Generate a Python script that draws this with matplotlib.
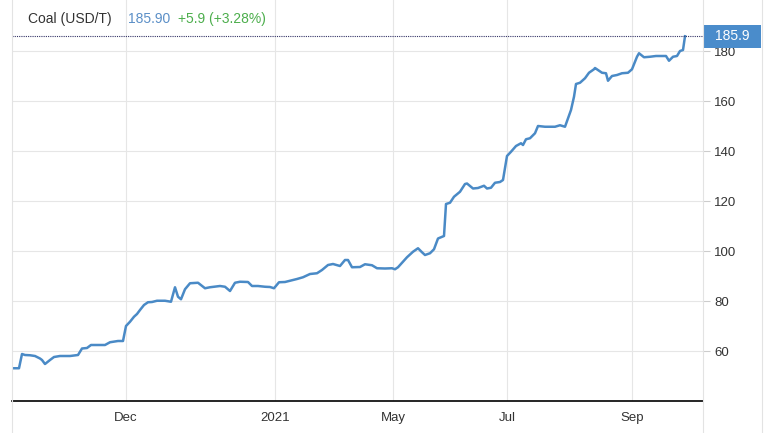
import matplotlib
matplotlib.use("Agg")
import matplotlib.pyplot as plt
from matplotlib.lines import Line2D
from matplotlib.patches import Rectangle
from matplotlib.transforms import blended_transform_factory

plt.rcParams['font.family'] = ['Liberation Sans', 'DejaVu Sans']

# Coal (USD/T), time index along the chart
t = [0, 7, 10, 13, 18, 23, 28, 30, 33, 38, 42, 48, 58, 66, 70, 75, 79, 93, 98, 106,
     111, 114, 118, 122, 125, 128, 132, 136, 140, 145, 153, 159, 163, 166, 169, 173,
     178, 186, 193, 198, 208, 213, 218, 223, 228, 236, 240, 246, 253, 258, 262, 267,
     273, 278, 285, 291, 298, 305, 310, 316, 321, 328, 333, 336, 340, 348, 353, 360,
     365, 373, 380, 383, 386, 391, 395, 401, 406, 410, 413, 418, 422, 426, 432, 434,
     438, 442, 448, 453, 455, 461, 466, 472, 475, 479, 483, 488, 491, 495, 499, 504,
     509, 511, 514, 518, 523, 526, 533, 543, 548, 553, 559, 562, 564, 568, 573, 577,
     582, 583, 586, 590, 594, 596, 600, 605, 610, 616, 620, 625, 627, 632, 638, 644,
     654, 657, 661, 665, 668, 671, 673]
price = [53.1, 53.1, 58.8, 58.4, 58.3, 58.0, 57.0, 56.4, 54.8, 56.4, 57.6, 58.0, 58.0,
         58.4, 61.0, 61.2, 62.4, 62.4, 63.5, 64.0, 64.0, 70.0, 71.7, 73.7, 74.8, 76.4,
         78.4, 79.5, 79.6, 80.1, 80.1, 79.7, 85.5, 81.7, 80.7, 84.7, 87.1, 87.3, 85.1,
         85.5, 86.0, 85.7, 84.0, 87.3, 87.7, 87.6, 86.0, 86.0, 85.7, 85.6, 85.1, 87.5,
         87.6, 88.1, 88.8, 89.5, 90.8, 91.1, 92.4, 94.4, 94.8, 94.0, 96.4, 96.4, 93.5,
         93.6, 94.7, 94.3, 93.1, 93.0, 93.1, 92.7, 93.5, 95.7, 97.5, 99.7, 101.1, 99.5,
         98.4, 99.1, 100.7, 105.0, 106.0, 118.8, 119.3, 121.7, 123.7, 126.8, 127.0,
         125.0, 125.2, 126.1, 125.0, 125.3, 127.3, 127.6, 128.4, 138.0, 139.7, 142.0,
         143.1, 142.4, 144.7, 145.1, 147.1, 150.0, 149.7, 149.7, 150.3, 149.7, 156.4,
         161.7, 166.8, 167.3, 169.1, 171.3, 172.7, 173.2, 172.4, 171.3, 171.1, 168.1,
         170.0, 170.4, 171.1, 171.3, 172.7, 177.7, 179.1, 177.5, 177.7, 178.0, 178.0,
         176.1, 177.7, 178.0, 180.0, 180.4, 185.9]

tick_pos = [114, 263, 381, 495, 620]
tick_labels = ["Dec", "2021", "May", "Jul", "Sep"]
y_ticks = [60, 80, 100, 120, 140, 160, 180]
last = 185.9
change = "+5.9 (+3.28%)"

W, H = 771, 433
fig = plt.figure(figsize=(W / 100, H / 100), dpi=100)
ax = fig.add_axes([12 / W, 32 / H, 691 / W, 401 / H])

line_color = "#4a8ac6"
ax.plot(t, price, color=line_color, linewidth=1.8, solid_joinstyle="round")

ax.set_xlim(0, 691)
ax.set_ylim(40, 200.4)
ax.set_xticks(tick_pos)
ax.set_xticklabels(tick_labels)
ax.set_yticks(y_ticks)
ax.yaxis.tick_right()
ax.tick_params(axis="x", length=0, pad=8, labelsize=9.5, labelcolor="#333333")
ax.tick_params(axis="y", length=5, width=0.8, color="#cccccc", pad=3,
               labelsize=9.5, labelcolor="#333333")
ax.grid(True, color="#e6e6e6", linewidth=0.8)
ax.set_axisbelow(True)
for s in ["top", "left", "right"]:
    ax.spines[s].set_visible(False)
ax.spines["bottom"].set_color("black")
ax.spines["bottom"].set_linewidth(1.2)

# last value line and box
ax.axhline(last, color="#333366", linestyle=(0, (1, 1)), linewidth=0.8)
trans = blended_transform_factory(ax.transAxes, ax.transData)
ax.add_patch(Rectangle((1.0, last - 4.6), 58 / 691, 9.2, transform=trans,
                       facecolor="#4a8ccb", edgecolor="none", clip_on=False, zorder=5))
ax.text(1.0 + 29 / 691, last, f"{last}", transform=trans, ha="center", va="center",
        color="white", fontsize=10, zorder=6)

# frame lines
for xp in [12, 703, 762]:
    fig.add_artist(Line2D([xp / W, xp / W], [0, 1], color="#e3e3e3", linewidth=0.8))

# header
fig.text(28 / W, 1 - 19 / H, "Coal (USD/T)", color="#333333", fontsize=10, va="center")
fig.text(128 / W, 1 - 19 / H, f"{last:.2f}", color="#5b8fc7", fontsize=10, va="center")
fig.text(178 / W, 1 - 19 / H, change, color="#4cae4c", fontsize=10, va="center")

fig.savefig("out.png", dpi=100)
